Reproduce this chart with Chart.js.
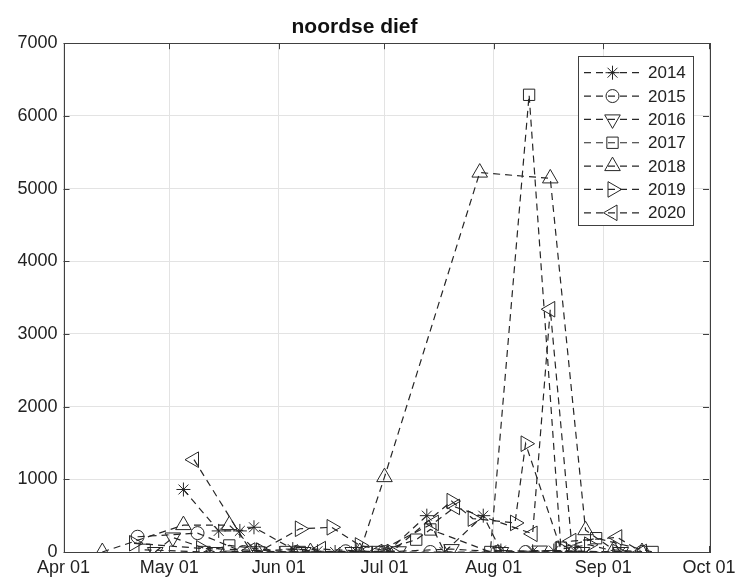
<!DOCTYPE html>
<html>
<head>
<meta charset="utf-8">
<script src="https://cdn.jsdelivr.net/npm/chart.js@4/dist/chart.umd.min.js"></script>
<style>
    html, body { margin: 0; padding: 0; background: #fff; }
    #wrap { width: 741px; height: 583px; }
</style>
</head>
<body>
<div id="wrap"><canvas id="chart" width="741" height="583"></canvas></div>
<script>
// --- Data (dates as MM-DD) ---
const tickDates = ['04-01', '05-01', '06-01', '07-01', '08-01', '09-01', '10-01'];
const tickLabels = ['Apr 01', 'May 01', 'Jun 01', 'Jul 01', 'Aug 01', 'Sep 01', 'Oct 01'];
const yTicks = [0, 1000, 2000, 3000, 4000, 5000, 6000, 7000];
const years = ['2014', '2015', '2016', '2017', '2018', '2019', '2020'];

const dates2014 = ['05-05', '05-15', '05-21', '05-25', '06-05', '06-12', '06-17', '06-23', '07-02', '07-13', '07-18', '07-29', '08-03', '08-12', '08-18', '08-24', '09-06'];
const values2014 = [860, 290, 290, 340, 40, 10, 0, 10, 10, 500, 0, 500, 20, 10, 20, 10, 0];

const dates2015 = ['04-22', '05-09', '05-22', '06-06', '06-20', '07-01', '07-14', '08-02', '08-10', '08-24', '09-12'];
const values2015 = [210, 260, 0, 0, 10, 0, 0, 0, 0, 10, 0];

const dates2016 = ['04-27', '05-02', '05-14', '05-26', '06-08', '06-22', '07-05', '07-20', '08-03', '08-14', '08-26', '09-06'];
const values2016 = [0, 200, 0, 10, 0, 0, 10, 40, 0, 20, 0, 0];

const dates2017 = ['04-24', '05-11', '05-18', '06-03', '06-07', '06-26', '06-29', '07-10', '07-14', '07-31', '08-11', '08-20', '08-30', '09-15'];
const values2017 = [30, 0, 90, 0, 0, 0, 0, 170, 310, 0, 6290, 60, 190, 0];

const dates2018 = ['04-12', '05-05', '05-18', '05-26', '06-10', '06-24', '07-01', '07-28', '08-17', '08-27', '09-04', '09-12'];
const values2018 = [0, 370, 370, 0, 0, 0, 1030, 5220, 5140, 300, 30, 0];

const dates2019 = ['04-21', '05-10', '05-27', '06-07', '06-16', '06-24', '07-03', '07-20', '07-26', '08-07', '08-10', '08-20', '08-28', '09-05'];
const values2019 = [120, 50, 20, 320, 340, 90, 0, 700, 460, 400, 1490, 40, 100, 0];

const dates2020 = ['05-08', '05-24', '06-13', '06-29', '07-15', '07-21', '08-12', '08-17', '08-23', '09-05', '09-12'];
const values2020 = [1270, 20, 40, 0, 400, 620, 250, 3340, 150, 200, 0];

// Days since Apr 01
const dayOf = (md) => {
    const [m, d] = md.split('-').map(Number);
    return (Date.UTC(2000, m - 1, d) - Date.UTC(2000, 3, 1)) / 86400000;
};
const toPoints = (dates, values) => dates.map((d, i) => ({ x: dayOf(d), y: values[i] }));

const ink = '#262626';
const markers = [
    { pointStyle: 'star', radius: 7, rotation: 0 },
    { pointStyle: 'circle', radius: 6.5, rotation: 0 },
    { pointStyle: 'triangle', radius: 9, rotation: 180 },
    { pointStyle: 'rect', radius: 8, rotation: 0 },
    { pointStyle: 'triangle', radius: 9, rotation: 0 },
    { pointStyle: 'triangle', radius: 9, rotation: 90 },
    { pointStyle: 'triangle', radius: 9, rotation: -90 }
];
const series = [
    toPoints(dates2014, values2014),
    toPoints(dates2015, values2015),
    toPoints(dates2016, values2016),
    toPoints(dates2017, values2017),
    toPoints(dates2018, values2018),
    toPoints(dates2019, values2019),
    toPoints(dates2020, values2020)
];

const fontFamily = '"Liberation Sans", Arial, Helvetica, sans-serif';

// Box around the axes with inward ticks (MATLAB style)
const framePlugin = {
    id: 'frame',
    afterDraw(chart) {
        const { ctx, chartArea: a, scales } = chart;
        ctx.save();
        ctx.strokeStyle = '#404040';
        ctx.lineWidth = 1;
        ctx.strokeRect(Math.round(a.left) + 0.5, Math.round(a.top) + 0.5,
            Math.round(a.right - a.left), Math.round(a.bottom - a.top));
        const len = 6;
        ctx.beginPath();
        scales.x.ticks.forEach(t => {
            const x = Math.round(scales.x.getPixelForValue(t.value)) + 0.5;
            ctx.moveTo(x, a.bottom); ctx.lineTo(x, a.bottom - len);
            ctx.moveTo(x, a.top); ctx.lineTo(x, a.top + len);
        });
        scales.y.ticks.forEach(t => {
            const y = Math.round(scales.y.getPixelForValue(t.value)) + 0.5;
            ctx.moveTo(a.left, y); ctx.lineTo(a.left + len, y);
            ctx.moveTo(a.right, y); ctx.lineTo(a.right - len, y);
        });
        ctx.stroke();
        ctx.restore();
    }
};

// Legend box inside the axes, top right
const legendPlugin = {
    id: 'boxLegend',
    afterDraw(chart) {
        const ctx = chart.ctx;
        const bx = 578, by = 56, bw = 115, bh = 169;
        const rowH = 23.35;
        ctx.save();
        ctx.fillStyle = '#ffffff';
        ctx.fillRect(bx, by, bw, bh);
        ctx.strokeStyle = '#404040';
        ctx.lineWidth = 1;
        ctx.strokeRect(bx + 0.5, by + 0.5, bw, bh);
        years.forEach((yr, i) => {
            const y = by + 16.7 + i * rowH;
            ctx.strokeStyle = ink;
            ctx.lineWidth = 1.2;
            ctx.setLineDash([7, 5]);
            ctx.beginPath();
            ctx.moveTo(584, y);
            ctx.lineTo(641, y);
            ctx.stroke();
            ctx.setLineDash([]);
            ctx.lineWidth = 1;
            ctx.fillStyle = 'rgba(0,0,0,0)';
            Chart.helpers.drawPoint(ctx, { ...markers[i], borderWidth: 1 }, 612.5, y);
            ctx.fillStyle = '#222';
            ctx.font = '17px ' + fontFamily;
            ctx.textBaseline = 'middle';
            ctx.textAlign = 'left';
            ctx.fillText(yr, 648, y + 1);
        });
        ctx.restore();
    }
};

new Chart(document.getElementById('chart'), {
    type: 'line',
    data: {
        datasets: series.map((pts, i) => ({
            label: years[i],
            data: pts,
            borderColor: ink,
            borderWidth: 1.2,
            borderDash: [7, 5],
            tension: 0,
            fill: false,
            pointStyle: markers[i].pointStyle,
            pointRadius: markers[i].radius,
            pointRotation: markers[i].rotation,
            pointBorderColor: ink,
            pointBackgroundColor: 'rgba(0,0,0,0)',
            pointBorderWidth: 1
        }))
    },
    options: {
        responsive: false,
        animation: false,
        layout: { padding: { left: 0, right: 32, top: 0, bottom: 0 } },
        plugins: {
            legend: { display: false },
            tooltip: { enabled: false },
            title: {
                display: true,
                text: 'noordse dief',
                color: '#111',
                font: { family: fontFamily, size: 21, weight: 'bold' },
                padding: { top: 15, bottom: 3 }
            }
        },
        scales: {
            x: {
                type: 'linear',
                min: 0,
                max: dayOf('10-01'),
                afterBuildTicks: (scale) => {
                    scale.ticks = tickDates.map(d => ({ value: dayOf(d) }));
                },
                afterFit: (scale) => { scale.height = 31; },
                ticks: {
                    autoSkip: false,
                    maxRotation: 0,
                    padding: 5,
                    color: '#222',
                    font: { family: fontFamily, size: 18 },
                    callback: (value) => {
                        const idx = tickDates.findIndex(d => dayOf(d) === value);
                        return idx >= 0 ? tickLabels[idx] : '';
                    }
                },
                grid: { color: '#e3e3e3', drawTicks: false },
                border: { display: false }
            },
            y: {
                min: 0,
                max: 7000,
                afterBuildTicks: (scale) => {
                    scale.ticks = yTicks.map(v => ({ value: v }));
                },
                afterFit: (scale) => { scale.width = 63.5; },
                ticks: {
                    padding: 6,
                    color: '#222',
                    font: { family: fontFamily, size: 18 },
                    callback: (value) => String(value)
                },
                grid: { color: '#e3e3e3', drawTicks: false },
                border: { display: false }
            }
        }
    },
    plugins: [framePlugin, legendPlugin]
});
</script>
</body>
</html>
